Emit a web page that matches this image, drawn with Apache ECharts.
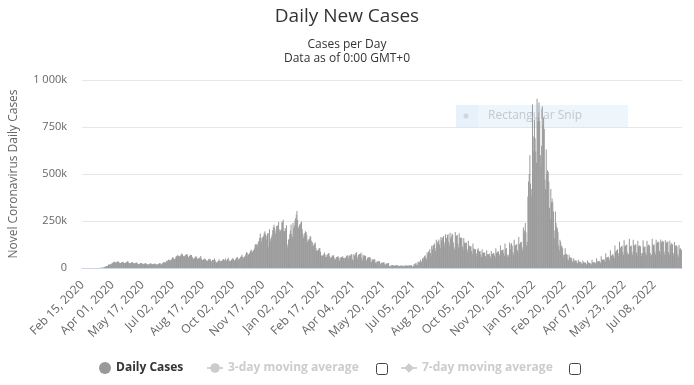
<!DOCTYPE html>
<html>
<head>
<meta charset="utf-8">
<script src="https://cdn.jsdelivr.net/npm/echarts@6/dist/echarts.min.js"></script>
<style>
html,body{margin:0;padding:0;background:#fff;}
#chart{width:694px;height:385px;}
</style>
</head>
<body>
<div id="chart"></div>
<script>
// First day of the series and number of days (one category per day)
const startDate = [2020, 1, 15]; // Feb 15, 2020 (month 0-based)
const dayCount = 917;

// Daily new cases, in thousands, one row per week (Sat..Fri), starting Feb 15, 2020
const dailyCasesK = [
0,0,0,0,0,0,0,
0,0,0,0,0,0,0,
0.01,0.01,0.02,0.03,0.03,0.06,0.1,
0.1,0.1,0.2,0.3,0.3,0.4,0.6,
0.9,0.8,1.3,1.9,2.7,4.5,5.6,
7,9,10,10,12,17,18,
19,19,21,24,26,28,32,
34,28,29,31,33,34,35,
30,27,26,27,30,31,33,
29,26,27,26,30,30,36,
34,27,25,25,27,29,32,
29,26,24,24,27,28,29,
25,21,20,22,21,27,27,
25,20,22,21,22,27,24,
23,20,19,18,20,22,25,
24,20,21,19,20,22,24,
21,18,18,19,21,23,25,
25,20,19,24,26,28,33,
32,28,31,38,37,40,45,
42,42,41,44,51,57,54,
48,46,50,60,63,65,70,
64,60,62,67,71,77,73,
65,63,63,66,71,72,75,
66,58,57,64,70,68,69,
58,50,48,53,56,60,62,
56,48,48,54,52,56,64,
50,42,41,45,47,50,47,
43,37,38,40,46,47,49,
44,35,36,43,42,44,50,
41,33,28,30,35,38,46,
39,35,37,38,40,45,48,
42,36,50,38,41,46,54,
44,36,37,38,44,46,53,
47,38,41,45,51,56,58,
50,44,49,52,59,64,70,
57,50,58,61,63,75,84,
81,66,72,75,81,91,99,
88,84,93,94,104,121,128,
126,112,125,139,143,160,184,
160,140,163,161,171,187,196,
179,150,172,182,186,112,206,
155,142,163,177,201,218,230,
213,182,200,224,225,228,245,
205,192,200,206,246,243,256,
197,196,213,204,228,125,110,
150,155,180,200,232,180,165,
239,211,225,253,264,285,303,
255,215,216,230,234,242,247,
206,182,160,171,186,196,192,
177,138,152,147,156,168,169,
145,115,137,118,121,129,136,
106,92,93,93,99,105,106,
87,68,62,65,70,72,83,
71,58,58,71,72,78,78,
62,52,56,58,65,67,68,
54,43,46,57,58,60,63,
51,38,56,53,59,58,62,
53,38,53,53,58,65,68,
62,50,68,62,67,75,70,
45,40,75,64,71,80,84,
60,48,69,75,75,75,83,
53,40,71,63,67,66,64,
44,34,55,54,58,56,56,
36,30,48,43,44,46,47,
29,22,33,34,37,35,37,
25,19,29,27,28,29,32,
20,15,24,23,24,25,27,
12,9,8,14,16,15,16,
12,10,14,13,15,14,15,
11,9,12,12,13,12,13,
10,8,13,11,13,13,14,
10,8,15,13,14,15,15,
9,7,10,20,18,24,26,
17,14,34,28,32,35,44,
35,28,52,47,57,62,68,
55,45,84,70,85,92,100,
80,65,118,100,118,122,130,
105,90,150,125,137,143,152,
125,105,165,148,160,163,170,
135,115,180,155,162,175,180,
140,120,188,158,168,182,178,
135,110,100,192,172,172,175,
130,110,185,162,160,162,160,
115,98,160,134,136,130,135,
100,85,145,115,118,113,116,
90,75,130,102,103,99,100,
78,65,98,105,90,88,90,
70,58,100,80,83,80,82,
64,55,95,73,72,73,76,
64,55,90,74,74,80,80,
66,56,105,80,84,88,88,
74,62,120,90,94,96,98,
78,65,130,100,106,72,60,
70,62,135,100,125,132,118,
85,72,150,118,121,124,128,
95,80,165,125,130,137,140,
110,95,215,185,200,240,190,
120,140,380,460,500,600,450,
420,380,870,620,700,790,690,
620,560,900,780,800,880,780,
600,540,650,860,760,800,740,
470,420,630,500,520,510,460,
320,260,420,350,370,350,300,
200,160,300,240,220,210,190,
120,95,150,140,120,115,105,
70,55,70,105,75,75,70,
48,40,70,58,55,55,50,
35,30,52,40,38,40,38,
28,24,44,34,32,33,30,
24,20,40,30,28,30,28,
22,19,40,30,28,27,27,
22,18,44,30,28,32,30,
26,21,52,35,34,36,38,
32,25,62,45,42,44,48,
40,32,78,55,55,58,60,
50,40,95,65,65,70,75,
62,50,120,85,90,95,100,
78,62,140,105,110,115,118,
85,70,148,115,120,120,125,
82,68,75,155,115,115,120,
85,70,150,120,120,125,125,
82,66,145,115,118,120,115,
78,64,80,148,115,110,115,
82,68,145,115,125,120,120,
80,65,70,155,125,120,125,
88,72,150,130,135,140,140,
90,75,152,135,140,145,140,
88,72,148,130,135,140,140,
85,70,145,120,130,130,125,
80,66,138,115,120,120,115,
72,60,122,100,105,100,95
];

const yTicksK = [0, 250, 500, 750, 1000];
const seriesNames = ['Daily Cases', '3-day moving average', '7-day moving average'];
const titleText = 'Daily New Cases';
const subtitleLines = ['Cases per Day', 'Data as of 0:00 GMT+0'];
const yAxisName = 'Novel Coronavirus Daily Cases';

const monthNames = ['Jan','Feb','Mar','Apr','May','Jun','Jul','Aug','Sep','Oct','Nov','Dec'];
const categories = [];
for (let i = 0; i < dayCount; i++) {
  const d = new Date(Date.UTC(startDate[0], startDate[1], startDate[2] + i));
  const dd = String(d.getUTCDate()).padStart(2, '0');
  categories.push(monthNames[d.getUTCMonth()] + ' ' + dd + ', ' + d.getUTCFullYear());
}

const FONT = '"Open Sans", "DejaVu Sans", sans-serif';
const chart = echarts.init(document.getElementById('chart'), null, {renderer: 'canvas'});
const sel = {};
sel[seriesNames[1]] = false;
sel[seriesNames[2]] = false;

const option = {
  animation: false,
  backgroundColor: '#ffffff',
  title: [
    {text: titleText, left: 'center', top: 2, textStyle: {fontFamily: FONT, fontSize: 19, fontWeight: 'normal', color: '#333333'}},
    {text: subtitleLines[0], left: 'center', top: 34, textStyle: {fontFamily: FONT, fontSize: 12, fontWeight: 'normal', color: '#333333'}},
    {text: subtitleLines[1], left: 'center', top: 48, textStyle: {fontFamily: FONT, fontSize: 12, fontWeight: 'normal', color: '#333333'}}
  ],
  grid: {left: 80, right: 12, top: 80, bottom: 117, containLabel: false},
  legend: [
    {data: [{name: seriesNames[0], icon: 'circle'}], left: 94, top: 357, itemWidth: 12, itemHeight: 12, itemGap: 0, selected: sel,
     textStyle: {fontFamily: FONT, fontSize: 12, fontWeight: 'bold', color: '#333333'}, inactiveColor: '#cccccc'},
    {data: [seriesNames[1]], left: 201, top: 357, itemWidth: 16, itemHeight: 12, selected: sel,
     textStyle: {fontFamily: FONT, fontSize: 12, fontWeight: 'bold', color: '#333333'}, inactiveColor: '#cccccc'},
    {data: [seriesNames[2]], left: 395, top: 357, itemWidth: 16, itemHeight: 12, selected: sel,
     textStyle: {fontFamily: FONT, fontSize: 12, fontWeight: 'bold', color: '#333333'}, inactiveColor: '#cccccc'}
  ],
  xAxis: {
    type: 'category',
    data: categories,
    boundaryGap: true,
    axisLine: {lineStyle: {color: '#ccd6eb'}},
    axisTick: {show: false},
    axisLabel: {interval: 45, rotate: 45, margin: 15, color: '#666666', fontFamily: FONT, fontSize: 12},
    splitLine: {show: false}
  },
  yAxis: {
    type: 'value',
    min: yTicksK[0],
    max: yTicksK[yTicksK.length - 1],
    interval: yTicksK[1] - yTicksK[0],
    name: yAxisName,
    nameLocation: 'middle',
    nameRotate: 90,
    nameGap: 62,
    nameTextStyle: {color: '#666666', fontFamily: FONT, fontSize: 12},
    axisLine: {show: false},
    axisTick: {show: false},
    axisLabel: {
      margin: 15, color: '#666666', fontFamily: FONT, fontSize: 11,
      formatter: function (v) {
        if (v === 0) return '0';
        return String(v).replace(/\B(?=(\d{3})+(?!\d))/g, ' ') + 'k';
      }
    },
    splitLine: {lineStyle: {color: '#e6e6e6'}}
  },
  graphic: {
    elements: [
      {type: 'rect', z: 0, shape: {x: 456, y: 105, width: 172, height: 22}, style: {fill: '#eef6fd'}},
      {type: 'rect', z: 0, shape: {x: 456, y: 105, width: 22, height: 22}, style: {fill: '#e7f1fb'}},
      {type: 'circle', z: 0, shape: {cx: 466, cy: 116, r: 2.5}, style: {fill: '#cfd6dd'}},
      {type: 'text', z: 0, x: 488, y: 116, style: {text: 'Rectangular Snip', fill: '#c3c8ce', font: '12px "Open Sans", sans-serif', textVerticalAlign: 'middle'}},
      {type: 'rect', z: 10, shape: {x: 376.5, y: 363.5, width: 11, height: 11, r: 2}, style: {fill: '#ffffff', stroke: '#444444', lineWidth: 1}},
      {type: 'rect', z: 10, shape: {x: 569.5, y: 363.5, width: 11, height: 11, r: 2}, style: {fill: '#ffffff', stroke: '#444444', lineWidth: 1}}
    ]
  },
  series: [
    {name: seriesNames[0], type: 'bar', data: dailyCasesK, barCategoryGap: '0%', itemStyle: {color: '#999999'}, z: 2},
    {name: seriesNames[1], type: 'line', data: [], itemStyle: {color: '#999999'}, symbol: 'circle'},
    {name: seriesNames[2], type: 'line', data: [], itemStyle: {color: '#999999'}, symbol: 'diamond'}
  ]
};
chart.setOption(option);
</script>
</body>
</html>
